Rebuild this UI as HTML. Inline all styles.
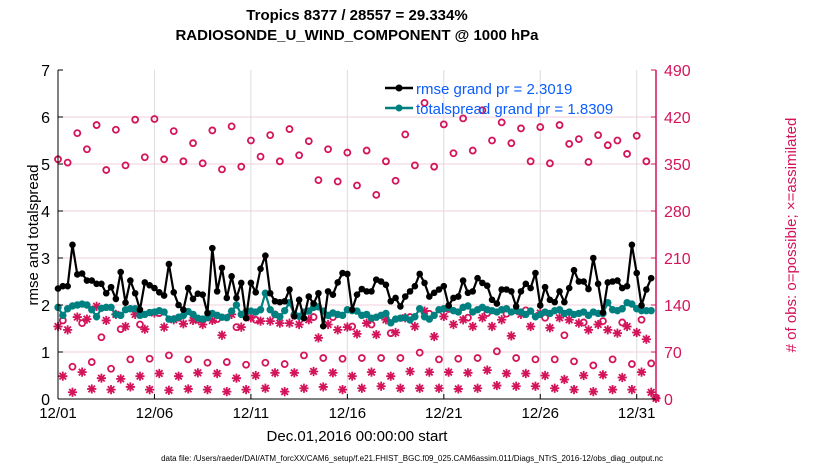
<!DOCTYPE html>
<html><head><meta charset="utf-8"><style>
html,body{margin:0;padding:0;background:#fff;}
svg{display:block;font-family:"Liberation Sans",sans-serif;}
</style></head><body>
<svg id="chart" width="830" height="470" viewBox="0 0 830 470" xmlns="http://www.w3.org/2000/svg">
<rect x="0" y="0" width="830" height="470" fill="#fff"/>
<text x="357" y="20" text-anchor="middle" font-size="15" font-weight="bold">Tropics 8377 / 28557 = 29.334%</text>
<text x="357" y="40" text-anchor="middle" font-size="15" font-weight="bold">RADIOSONDE_U_WIND_COMPONENT @ 1000 hPa</text>
<g id="grid"></g>
<g id="series"></g>
<g id="axes"></g>
<text x="357" y="441" text-anchor="middle" font-size="15">Dec.01,2016 00:00:00 start</text>
<text transform="translate(38,235) rotate(-90)" text-anchor="middle" font-size="15">rmse and totalspread</text>
<text transform="translate(796,235) rotate(-90)" text-anchor="middle" font-size="15" fill="#d4145a">#  of obs: o=possible; ×=assimilated</text>
<text x="412" y="461" text-anchor="middle" font-size="8">data file: /Users/raeder/DAI/ATM_forcXX/CAM6_setup/f.e21.FHIST_BGC.f09_025.CAM6assim.011/Diags_NTrS_2016-12/obs_diag_output.nc</text>
<g id="legend">
  <line x1="385" y1="88" x2="413" y2="88" stroke="#000" stroke-width="2.5"/>
  <circle cx="399" cy="88" r="3.5" fill="#000"/>
  <text x="416" y="94" font-size="15" fill="#0a5cff">rmse grand pr = 2.3019</text>
  <line x1="385" y1="108" x2="413" y2="108" stroke="#008080" stroke-width="2.5"/>
  <circle cx="399" cy="108" r="3.5" fill="#008080"/>
  <text x="416" y="114" font-size="15" fill="#0a5cff">totalspread grand pr = 1.8309</text>
</g>
</svg>
<script>
const rmse = [2.35,2.4,2.4,3.28,2.65,2.67,2.52,2.52,2.45,2.45,2.25,2.38,2.13,2.7,2.05,2.52,2.25,1.9,2.48,2.42,2.36,2.27,2.2,2.87,2.27,2.0,1.9,2.36,2.13,2.24,2.22,1.83,3.21,2.29,2.79,2.15,2.61,2.15,2.47,1.72,2.47,2.27,2.77,3.05,2.25,2.08,2.06,2.08,2.33,1.76,2.11,1.72,2.18,2.03,2.25,1.55,2.29,2.22,2.48,2.68,2.66,1.9,2.22,
2.34,2.29,2.29,2.54,2.5,2.43,2.08,2.15,1.97,2.18,2.29,2.4,2.66,2.47,2.18,2.26,2.33,2.4,1.99,2.15,2.18,2.52,2.26,2.29,2.57,2.47,2.41,2.11,2.03,2.33,2.33,2.29,1.97,2.29,2.45,2.36,2.68,1.99,2.38,2.11,2.06,2.29,2.06,2.36,2.74,2.5,2.5,2.34,3.0,2.45,1.84,2.48,2.5,2.52,2.36,2.4,3.28,2.68,1.99,2.33,2.57];
const spread = [1.95,1.78,1.92,1.98,2.0,2.02,2.0,1.9,1.75,1.93,1.95,1.95,1.8,1.78,1.9,1.92,1.92,1.78,1.8,1.84,1.85,1.88,1.85,1.7,1.7,1.74,1.78,1.86,1.8,1.72,1.7,1.73,1.82,1.78,1.74,1.73,1.87,2.0,1.8,1.86,1.87,1.85,1.9,2.25,1.9,1.8,1.75,1.88,2.05,1.8,1.76,1.85,1.87,1.95,1.96,1.87,1.78,1.83,1.8,1.78,1.9,1.88,1.87,
1.78,1.8,1.72,1.74,1.78,1.82,1.62,1.7,1.72,1.73,1.68,1.75,1.92,1.75,1.7,1.78,1.9,1.92,1.95,1.88,1.85,1.95,1.98,1.85,1.9,1.95,1.9,1.88,1.85,1.9,1.92,1.85,1.88,1.85,1.8,1.87,1.75,1.8,1.85,1.82,1.88,1.9,1.82,1.85,1.8,1.82,1.85,1.78,1.85,1.82,1.82,2.05,1.9,1.88,1.92,2.05,2.02,1.92,1.88,1.88,1.88];
const possible = [357,117,352,48,396,113,372,55,408,92,341,45,401,104,348,59,416,111,360,60,417,128,357,65,399,121,354,59,381,118,351,54,400,119,342,55,406,107,346,51,385,118,361,54,393,126,354,52,402,124,363,65,384,122,326,61,372,122,324,60,367,108,318,61,370,111,304,61,354,98,325,61,394,122,348,69,441,127,346,59,409,134,366,60,418,121,370,61,430,128,385,71,412,127,381,61,403,132,354,59,405,121,351,59,408,95,380,56,387,114,353,50,393,116,378,59,385,114,365,52,392,118,354,53,2];
const assimilated = [108,34,103,10,122,40,119,15,138,31,117,14,126,30,108,18,126,34,104,14,128,38,107,13,118,34,112,15,117,39,111,14,117,38,95,11,126,31,107,14,121,35,116,16,116,39,113,11,113,39,111,16,118,41,91,18,111,39,103,14,107,34,97,16,113,40,96,19,118,34,99,16,121,41,108,16,131,40,93,16,123,40,111,15,118,39,108,16,121,43,108,20,118,38,94,19,126,38,108,19,128,35,106,16,121,29,118,14,113,35,103,11,111,36,103,14,98,32,108,14,99,40,89,10,1];
const xTickLabels = ["12/01","12/06","12/11","12/16","12/21","12/26","12/31"];
const xTickDays = [0,5,10,15,20,25,30];
const leftTicks = [0,1,2,3,4,5,6,7];
const rightTicks = [0,70,140,210,280,350,420,490];

const NS="http://www.w3.org/2000/svg";
const X0=58, X1=656, Y0=399, Y1=70, DAYS=31;
const xDay = d => X0 + d*(X1-X0)/DAYS;
const xIdx = i => xDay(i*0.25);
const yL = v => Y0 - v*(Y0-Y1)/7;
const yR = v => Y0 - v*(Y0-Y1)/490;
function mk(tag, attrs, parent){const e=document.createElementNS(NS,tag);for(const k in attrs)e.setAttribute(k,attrs[k]);parent.appendChild(e);return e;}
const grid=document.getElementById('grid'), series=document.getElementById('series'), axes=document.getElementById('axes');

xTickDays.forEach((d,k)=>{
  const g=mk('line',{x1:xDay(d),x2:xDay(d),y1:Y1,y2:Y0,stroke:'#dcdcdc','stroke-width':1},grid);
  
  
  const t=mk('line',{x1:xDay(d),x2:xDay(d),y1:Y0,y2:Y0-5,stroke:'#000','stroke-width':1},axes);
  
  
  const lb=mk('text',{x:xDay(d),y:Y0+19,'text-anchor':'middle','font-size':15},axes);
  lb.textContent=xTickLabels[k];
  
  
});
rightTicks.forEach(v=>{
  if(v>0&&v<490){const g=mk('line',{x1:X0,x2:X1,y1:yR(v),y2:yR(v),stroke:'#f3cfdc','stroke-width':1},grid);
  
  }
  const t=mk('line',{x1:X1,x2:X1-5,y1:yR(v),y2:yR(v),stroke:'#d4145a','stroke-width':1},axes);
  
  
  const lb=mk('text',{x:X1+8,y:yR(v)+6,'font-size':16,fill:'#d4145a'},axes);
  lb.textContent=v;
  
  
});
leftTicks.forEach(v=>{
  const t=mk('line',{x1:X0,x2:X0+5,y1:yL(v),y2:yL(v),stroke:'#000','stroke-width':1},axes);
  
  
  const lb=mk('text',{x:X0-8,y:yL(v)+6,'text-anchor':'end','font-size':16},axes);
  lb.textContent=v;
  
  
});
const la=mk('line',{x1:X0,x2:X0,y1:Y1,y2:Y0,stroke:'#000','stroke-width':1},axes);


const ba=mk('line',{x1:X0,x2:X1,y1:Y0,y2:Y0,stroke:'#000','stroke-width':1},axes);


const ra=mk('line',{x1:X1,x2:X1,y1:Y1,y2:Y0,stroke:'#d4145a','stroke-width':1.5},axes);



possible.forEach((v,i)=>{
  const c=mk('circle',{cx:xIdx(i),cy:yR(v),r:3,fill:'none',stroke:'#d4145a','stroke-width':1.8},series);
  
  
});
assimilated.forEach((v,i)=>{
  const cx=xIdx(i), cy=yR(v), r=4.6, d=3.3;
  const p=mk('path',{d:`M${cx-r},${cy}H${cx+r}M${cx},${cy-r}V${cy+r}M${cx-d},${cy-d}L${cx+d},${cy+d}M${cx-d},${cy+d}L${cx+d},${cy-d}`,stroke:'#d4145a','stroke-width':1.8,fill:'none'},series);
  
  
});
const sp=mk('polyline',{points:spread.map((v,i)=>xIdx(i)+','+yL(v)).join(' '),fill:'none',stroke:'#008080','stroke-width':2.2},series);


spread.forEach((v,i)=>{
  const c=mk('circle',{cx:xIdx(i),cy:yL(v),r:3.7,fill:'#008080'},series);
  
  
});
const rl=mk('polyline',{points:rmse.map((v,i)=>xIdx(i)+','+yL(v)).join(' '),fill:'none',stroke:'#000','stroke-width':2.2},series);


rmse.forEach((v,i)=>{
  const c=mk('circle',{cx:xIdx(i),cy:yL(v),r:3.3,fill:'#000'},series);
  
  
});
</script>
</body></html>
